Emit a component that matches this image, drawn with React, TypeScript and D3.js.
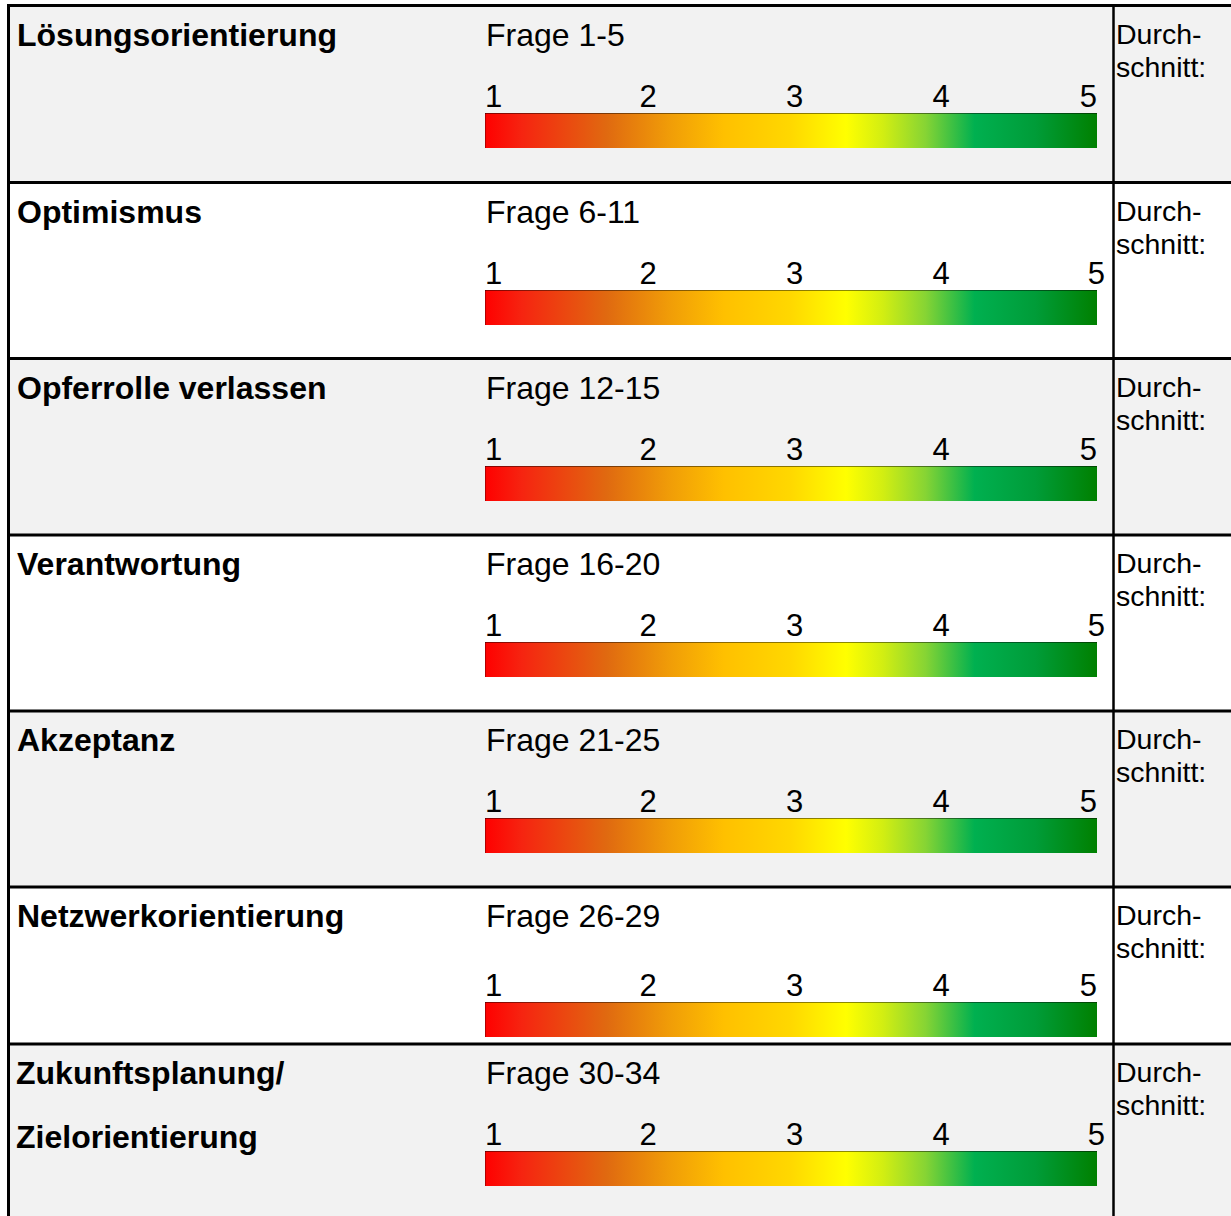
import * as d3 from "d3"

// Rows of the resilience scale sheet
const categories = [
  "Lösungsorientierung",
  "Optimismus",
  "Opferrolle verlassen",
  "Verantwortung",
  "Akzeptanz",
  "Netzwerkorientierung",
  "Zukunftsplanung/\nZielorientierung",
]
const questionRanges = [
  "Frage 1-5",
  "Frage 6-11",
  "Frage 12-15",
  "Frage 16-20",
  "Frage 21-25",
  "Frage 26-29",
  "Frage 30-34",
]
const scaleTicks = [1, 2, 3, 4, 5]
const averageLabel = ["Durch-", "schnitt:"]

// gradient stops (offset, colour)
const gradientOffsets = [0, 0.06, 0.2, 0.3, 0.39, 0.5, 0.59, 0.65, 0.72, 0.8, 0.9, 1]
const gradientColors = [
  "#ff0000", "#f62410", "#e06a10", "#f09c08", "#ffc000", "#ffd800",
  "#ffff00", "#d2ee12", "#86d434", "#00b050", "#009c38", "#008000",
]

// layout
const W = 1231
const H = 1216
const rowTops = [5.5, 182.5, 358.5, 535, 711, 887, 1044]
const barOffsets = [107.5, 107.5, 107.5, 107, 107, 115, 107]
const lastTickNudge = [0, 8, 0, 8, 0, 0, 8]
const leftX = 8.5
const dividerX = 1113.5
const barX0 = 485
const barX1 = 1097
const barH = 35
const font = "'Liberation Sans', Arial, Helvetica, sans-serif"

export default function App() {
  const x = d3.scaleLinear().domain([2, 4]).range([648, 941])
  const rowBottom = (i: number) => (i < rowTops.length - 1 ? rowTops[i + 1] : H)

  return (
    <div style={{ position: "absolute", left: 0, top: 0, width: W, height: H, overflow: "hidden" }}>
      <svg width={W} height={H} style={{ display: "block" }} fontFamily={font}>
        <defs>
          <linearGradient id="scaleGrad" x1="0" x2="1" y1="0" y2="0">
            {gradientOffsets.map((o, k) => (
              <stop key={k} offset={o} stopColor={gradientColors[k]} />
            ))}
          </linearGradient>
        </defs>
        <rect x={0} y={0} width={W} height={H} fill="#fff" />

        {categories.map((cat, i) => {
          const top = rowTops[i]
          const barY = top + barOffsets[i]
          const lines = cat.split("\n")
          return (
            <g key={cat}>
              <rect
                x={leftX}
                y={top}
                width={W - leftX}
                height={rowBottom(i) - top}
                fill={i % 2 === 0 ? "#f2f2f2" : "#ffffff"}
              />
              {lines.map((ln, j) => (
                <text key={j} x={lines.length > 1 ? 16 : 17} y={top + 40 + j * 64} fontSize={32} fontWeight="bold" fill="#000">
                  {ln}
                </text>
              ))}
              <text x={486} y={top + 40} fontSize={32} fill="#000">
                {questionRanges[i]}
              </text>
              {scaleTicks.map((t, k) => {
                const first = k === 0
                const last = k === scaleTicks.length - 1
                const tx = first ? barX0 : last ? barX1 + lastTickNudge[i] : x(t)
                return (
                  <text
                    key={t}
                    x={tx}
                    y={barY - 6}
                    fontSize={31}
                    textAnchor={first ? "start" : last ? "end" : "middle"}
                    fill="#000"
                  >
                    {t}
                  </text>
                )
              })}
              <rect x={barX0} y={barY} width={barX1 - barX0} height={barH} fill="url(#scaleGrad)" />
              <line x1={barX0} x2={barX1} y1={barY + 0.5} y2={barY + 0.5} stroke="#000" strokeOpacity={0.45} strokeWidth={1} />
              <line x1={barX0 + 0.5} x2={barX0 + 0.5} y1={barY} y2={barY + barH} stroke="#000" strokeOpacity={0.3} strokeWidth={1} />
              {averageLabel.map((ln, j) => (
                <text key={j} x={1116} y={top + 38 + j * 33} fontSize={28.5} fill="#000">
                  {ln}
                </text>
              ))}
            </g>
          )
        })}

        {/* grid lines */}
        <line x1={dividerX} x2={dividerX} y1={rowTops[0]} y2={H} stroke="#000" strokeWidth={2.5} />
        {rowTops.map((t, i) => (
          <line key={i} x1={leftX - 1.5} x2={W} y1={t} y2={t} stroke="#000" strokeWidth={3} />
        ))}
        <line x1={leftX} x2={leftX} y1={rowTops[0] - 1.5} y2={H} stroke="#000" strokeWidth={3} />
      </svg>
    </div>
  )
}
